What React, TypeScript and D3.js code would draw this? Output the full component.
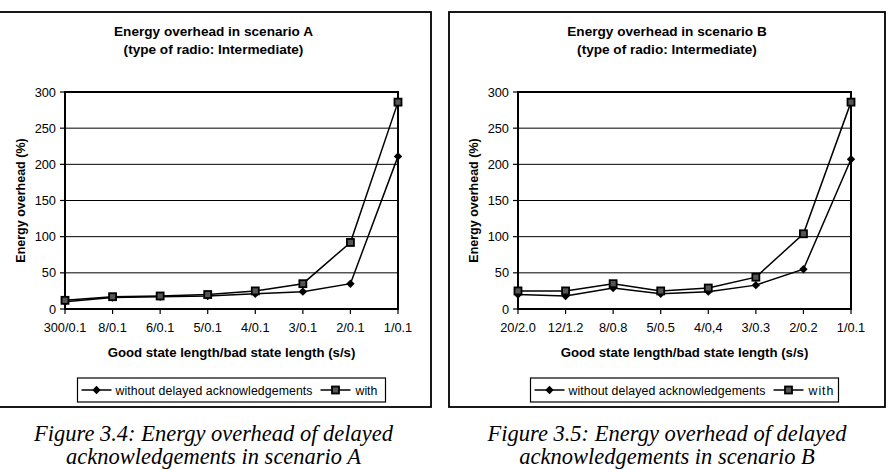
import React from 'react';
import * as d3 from 'd3';

const categoriesA = ['300/0.1', '8/0.1', '6/0.1', '5/0.1', '4/0.1', '3/0.1', '2/0.1', '1/0.1'];
const withoutA = [10, 16, 17, 18, 21, 24, 35, 211];
const withA = [12, 17, 18, 20, 25, 35, 92, 286];

const categoriesB = ['20/2.0', '12/1.2', '8/0.8', '5/0.5', '4/0,4', '3/0.3', '2/0.2', '1/0.1'];
const withoutB = [20, 18, 29, 21, 24, 33, 55, 207];
const withB = [25, 25, 35, 25, 29, 44, 104, 286];

const yTicks = [0, 50, 100, 150, 200, 250, 300];

const SANS = 'Arial, "Liberation Sans", sans-serif';
const SERIF = '"Times New Roman", "Liberation Serif", serif';

const diamond = (x: number, y: number, r: number) =>
  `M${x},${y - r}L${x + r},${y}L${x},${y + r}L${x - r},${y}Z`;

interface PanelProps {
  left: number;
  frameLeft: number;
  frameRight: number;
  title: string;
  caption: string;
  categories: string[];
  without: number[];
  withAck: number[];
  legendWidth: number;
  withSpacing?: number;
}

const Panel: React.FC<PanelProps> = ({
  left, frameLeft, frameRight, title, caption, categories, without, withAck, legendWidth, withSpacing = 0,
}) => {
  const plotLeft = left;
  const plotRight = left + 333;
  const plotTop = 92;
  const plotBottom = 309;
  const cx = (frameLeft + frameRight) / 2;
  const pcx = (plotLeft + plotRight) / 2;

  const x = d3.scalePoint<string>().domain(categories).range([plotLeft, plotRight]);
  const y = d3.scaleLinear().domain([0, 300]).range([plotBottom, plotTop]);

  const line = d3
    .line<number>()
    .x((_, i) => x(categories[i])!)
    .y(d => y(d));

  const lgLeft = pcx - legendWidth / 2;
  const lgTop = 378;
  const lgMid = 390;
  const textEnd = lgLeft + 38 + 198;

  return (
    <g>
      <rect x={frameLeft} y={12} width={frameRight - frameLeft} height={395} fill="#fff" stroke="#000" strokeWidth={1.8} />

      <text x={cx} y={36} textAnchor="middle" fontFamily={SANS} fontWeight="bold" fontSize={13.6}>{title}</text>
      <text x={cx} y={54} textAnchor="middle" fontFamily={SANS} fontWeight="bold" fontSize={13.6}>(type of radio: Intermediate)</text>

      {yTicks.filter(t => t > 0 && t < 300).map(t => (
        <line key={t} x1={plotLeft} x2={plotRight} y1={y(t)} y2={y(t)} stroke="#000" strokeWidth={1} />
      ))}

      {yTicks.map(t => (
        <g key={t}>
          <line x1={plotLeft - 5} x2={plotLeft} y1={y(t)} y2={y(t)} stroke="#000" strokeWidth={1.2} />
          <text x={plotLeft - 9} y={y(t) + 4.5} textAnchor="end" fontFamily={SANS} fontSize={12.8}>{t}</text>
        </g>
      ))}

      {categories.map(c => (
        <g key={c}>
          <line x1={x(c)} x2={x(c)} y1={plotBottom} y2={plotBottom + 5} stroke="#000" strokeWidth={1.2} />
          <text x={x(c)} y={332} textAnchor="middle" fontFamily={SANS} fontSize={12.8}>{c}</text>
        </g>
      ))}

      <rect x={plotLeft} y={plotTop} width={plotRight - plotLeft} height={plotBottom - plotTop} fill="none" stroke="#000" strokeWidth={2} />

      <text x={pcx} y={356.5} textAnchor="middle" fontFamily={SANS} fontWeight="bold" fontSize={13.2}>
        Good state length/bad state length (s/s)
      </text>
      <text
        transform={`translate(${plotLeft - 40},${(plotTop + plotBottom) / 2}) rotate(-90)`}
        textAnchor="middle"
        fontFamily={SANS}
        fontWeight="bold"
        fontSize={12.5}
      >
        Energy overhead (%)
      </text>

      <path d={line(without)!} fill="none" stroke="#000" strokeWidth={1.5} />
      <path d={line(withAck)!} fill="none" stroke="#000" strokeWidth={1.5} />
      {without.map((v, i) => (
        <path key={i} d={diamond(x(categories[i])!, y(v), 4.2)} fill="#000" />
      ))}
      {withAck.map((v, i) => (
        <rect key={i} x={x(categories[i])! - 3.5} y={y(v) - 3.5} width={7} height={7} fill="#555" stroke="#000" strokeWidth={1.8} />
      ))}

      {/* legend */}
      <rect x={lgLeft} y={lgTop} width={legendWidth} height={24} fill="#fff" stroke="#000" strokeWidth={1.2} />
      <line x1={lgLeft + 4} x2={lgLeft + 34} y1={lgMid} y2={lgMid} stroke="#000" strokeWidth={1.5} />
      <path d={diamond(lgLeft + 19, lgMid, 4.2)} fill="#000" />
      <text x={lgLeft + 38} y={lgMid + 4.5} fontFamily={SANS} fontSize={12.3} textLength={197}>without delayed acknowledgements</text>
      <line x1={textEnd + 7} x2={textEnd + 37} y1={lgMid} y2={lgMid} stroke="#000" strokeWidth={1.5} />
      <rect x={textEnd + 18.5} y={lgMid - 3.5} width={7} height={7} fill="#555" stroke="#000" strokeWidth={1.8} />
      <text x={textEnd + 42} y={lgMid + 4.5} fontFamily={SANS} fontSize={12.3} letterSpacing={withSpacing}>with</text>

      <text x={cx} y={441} textAnchor="middle" fontFamily={SERIF} fontStyle="italic" fontSize={22.5}>{caption}</text>
      <text x={cx} y={464} textAnchor="middle" fontFamily={SERIF} fontStyle="italic" fontSize={22.5}>
        {`acknowledgements in scenario ${title.slice(-1)}`}
      </text>
    </g>
  );
};

export default function App() {
  return (
    <div style={{ position: 'fixed', left: 0, top: 0 }}>
      <svg width={890} height={470} style={{ display: 'block', background: '#fff' }}>
        <rect width={890} height={470} fill="#fff" />
        <Panel
          left={65}
          frameLeft={-4}
          frameRight={431}
          title="Energy overhead in scenario A"
          caption="Figure 3.4: Energy overhead of delayed"
          categories={categoriesA}
          without={withoutA}
          withAck={withA}
          legendWidth={308}
        />
        <Panel
          left={518}
          frameLeft={449}
          frameRight={885}
          title="Energy overhead in scenario B"
          caption="Figure 3.5: Energy overhead of delayed"
          categories={categoriesB}
          without={withoutB}
          withAck={withB}
          legendWidth={308}
          withSpacing={1}
        />
      </svg>
    </div>
  );
}
